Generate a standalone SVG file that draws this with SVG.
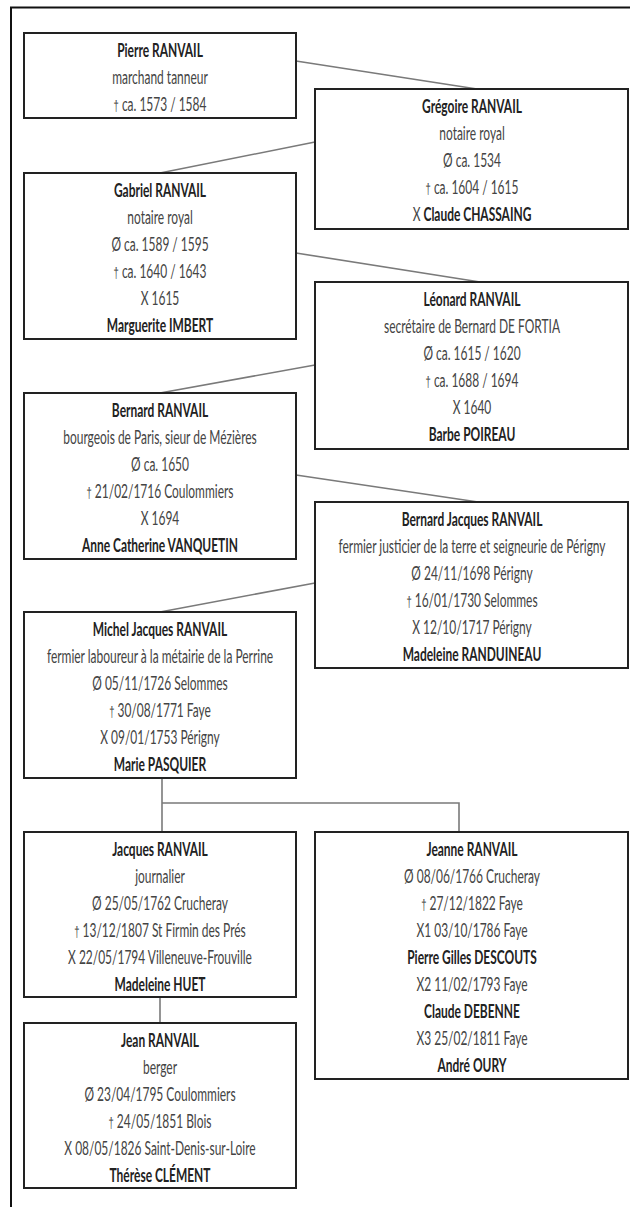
<svg xmlns="http://www.w3.org/2000/svg" width="630" height="1207" viewBox="0 0 630 1207">
<style>
.frame{fill:none;stroke:#111;stroke-width:2}
.box{fill:#fff;stroke:#222;stroke-width:2}
.conn{fill:none;stroke:#7a7a7a;stroke-width:1.6}
text{font-family:Lato,"Liberation Sans",sans-serif;font-size:19px;text-anchor:middle;fill:#444}
.b{font-weight:bold;fill:#222}
.d{font-family:"Liberation Sans",sans-serif;font-size:15px;fill:#444}
</style>
<rect width="630" height="1207" fill="#fff"/>
<rect class="frame" x="11" y="7.5" width="640" height="1230"/>
<g id="connectors">
<line class="conn" x1="296" y1="61" x2="477" y2="89"/>
<line class="conn" x1="315" y1="142" x2="160" y2="173"/>
<line class="conn" x1="296" y1="253" x2="480" y2="282"/>
<line class="conn" x1="315" y1="365" x2="160" y2="393"/>
<line class="conn" x1="296" y1="475" x2="478" y2="502"/>
<line class="conn" x1="315" y1="583" x2="160" y2="612"/>
<polyline class="conn" points="162,778 162,832"/>
<polyline class="conn" points="162,803 459,803 459,832"/>
<line class="conn" x1="160" y1="997" x2="160" y2="1023"/>
</g>
<g id="pierre">
<rect class="box" x="24" y="33" width="272" height="85"/>
<g transform="translate(160,0) scale(0.63,1)">
<text class="b" x="0" y="57">Pierre RANVAIL</text>
<text x="0" y="84">marchand tanneur</text>
<text x="0" y="111"><tspan class="d">†</tspan> ca. 1573 / 1584</text>
</g>
</g>
<g id="gregoire">
<rect class="box" x="315" y="89" width="313" height="140"/>
<g transform="translate(472,0) scale(0.63,1)">
<text class="b" x="0" y="113">Grégoire RANVAIL</text>
<text x="0" y="140">notaire royal</text>
<text x="0" y="167">Ø ca. 1534</text>
<text x="0" y="194"><tspan class="d">†</tspan> ca. 1604 / 1615</text>
<text x="0" y="221">X <tspan class="b">Claude CHASSAING</tspan></text>
</g>
</g>
<g id="gabriel">
<rect class="box" x="24" y="173" width="272" height="166"/>
<g transform="translate(160,0) scale(0.63,1)">
<text class="b" x="0" y="197">Gabriel RANVAIL</text>
<text x="0" y="224">notaire royal</text>
<text x="0" y="251">Ø ca. 1589 / 1595</text>
<text x="0" y="278"><tspan class="d">†</tspan> ca. 1640 / 1643</text>
<text x="0" y="305">X 1615</text>
<text class="b" x="0" y="332">Marguerite IMBERT</text>
</g>
</g>
<g id="leonard">
<rect class="box" x="315" y="282" width="313" height="167"/>
<g transform="translate(472,0) scale(0.63,1)">
<text class="b" x="0" y="306">Léonard RANVAIL</text>
<text x="0" y="333">secrétaire de Bernard DE FORTIA</text>
<text x="0" y="360">Ø ca. 1615 / 1620</text>
<text x="0" y="387"><tspan class="d">†</tspan> ca. 1688 / 1694</text>
<text x="0" y="414">X 1640</text>
<text class="b" x="0" y="441">Barbe POIREAU</text>
</g>
</g>
<g id="bernard">
<rect class="box" x="24" y="393" width="272" height="166"/>
<g transform="translate(160,0) scale(0.63,1)">
<text class="b" x="0" y="417">Bernard RANVAIL</text>
<text x="0" y="444">bourgeois de Paris, sieur de Mézières</text>
<text x="0" y="471">Ø ca. 1650</text>
<text x="0" y="498"><tspan class="d">†</tspan> 21/02/1716 Coulommiers</text>
<text x="0" y="525">X 1694</text>
<text class="b" x="0" y="552">Anne Catherine VANQUETIN</text>
</g>
</g>
<g id="bernard-jacques">
<rect class="box" x="315" y="502" width="313" height="166"/>
<g transform="translate(472,0) scale(0.63,1)">
<text class="b" x="0" y="526">Bernard Jacques RANVAIL</text>
<text x="0" y="553">fermier justicier de la terre et seigneurie de Périgny</text>
<text x="0" y="580">Ø 24/11/1698 Périgny</text>
<text x="0" y="607"><tspan class="d">†</tspan> 16/01/1730 Selommes</text>
<text x="0" y="634">X 12/10/1717 Périgny</text>
<text class="b" x="0" y="661">Madeleine RANDUINEAU</text>
</g>
</g>
<g id="michel-jacques">
<rect class="box" x="24" y="612" width="272" height="166"/>
<g transform="translate(160,0) scale(0.63,1)">
<text class="b" x="0" y="636">Michel Jacques RANVAIL</text>
<text x="0" y="663">fermier laboureur à la métairie de la Perrine</text>
<text x="0" y="690">Ø 05/11/1726 Selommes</text>
<text x="0" y="717"><tspan class="d">†</tspan> 30/08/1771 Faye</text>
<text x="0" y="744">X 09/01/1753 Périgny</text>
<text class="b" x="0" y="771">Marie PASQUIER</text>
</g>
</g>
<g id="jacques">
<rect class="box" x="24" y="832" width="272" height="165"/>
<g transform="translate(160,0) scale(0.63,1)">
<text class="b" x="0" y="856">Jacques RANVAIL</text>
<text x="0" y="883">journalier</text>
<text x="0" y="910">Ø 25/05/1762 Crucheray</text>
<text x="0" y="937"><tspan class="d">†</tspan> 13/12/1807 St Firmin des Prés</text>
<text x="0" y="964">X 22/05/1794 Villeneuve-Frouville</text>
<text class="b" x="0" y="991">Madeleine HUET</text>
</g>
</g>
<g id="jeanne">
<rect class="box" x="315" y="832" width="313" height="247"/>
<g transform="translate(472,0) scale(0.63,1)">
<text class="b" x="0" y="856">Jeanne RANVAIL</text>
<text x="0" y="883">Ø 08/06/1766 Crucheray</text>
<text x="0" y="910"><tspan class="d">†</tspan> 27/12/1822 Faye</text>
<text x="0" y="937">X1 03/10/1786 Faye</text>
<text class="b" x="0" y="964">Pierre Gilles DESCOUTS</text>
<text x="0" y="991">X2 11/02/1793 Faye</text>
<text class="b" x="0" y="1018">Claude DEBENNE</text>
<text x="0" y="1045">X3 25/02/1811 Faye</text>
<text class="b" x="0" y="1072">André OURY</text>
</g>
</g>
<g id="jean">
<rect class="box" x="24" y="1023" width="272" height="165"/>
<g transform="translate(160,0) scale(0.63,1)">
<text class="b" x="0" y="1047">Jean RANVAIL</text>
<text x="0" y="1074">berger</text>
<text x="0" y="1101">Ø 23/04/1795 Coulommiers</text>
<text x="0" y="1128"><tspan class="d">†</tspan> 24/05/1851 Blois</text>
<text x="0" y="1155">X 08/05/1826 Saint-Denis-sur-Loire</text>
<text class="b" x="0" y="1182">Thérèse CLÉMENT</text>
</g>
</g>
</svg>
